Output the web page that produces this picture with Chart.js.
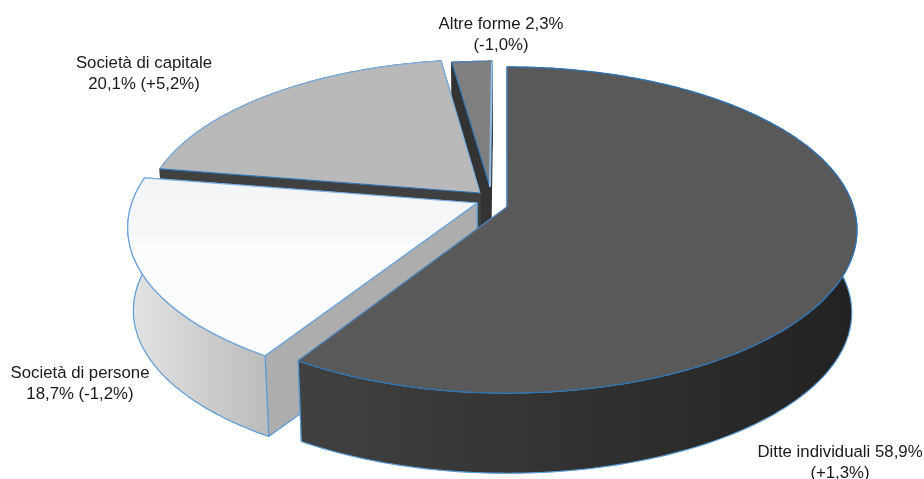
<!DOCTYPE html>
<html>
<head>
<meta charset="utf-8">
<style>
    html, body { margin: 0; padding: 0; background: #fff; }
    canvas { display: block; }
</style>
<script src="https://cdn.jsdelivr.net/npm/chart.js@4"></script>
</head>
<body>
<canvas id="pieCanvas" width="924" height="479"></canvas>
<script>
// Chart data
const categories = ['Ditte individuali', 'Società di persone', 'Società di capitale', 'Altre forme'];
const shares = [58.9, 18.7, 20.1, 2.3];
const sliceLabels = [
    ['Ditte individuali 58,9%', '(+1,3%)'],
    ['Società di persone', '18,7% (-1,2%)'],
    ['Società di capitale', '20,1% (+5,2%)'],
    ['Altre forme 2,3%', '(-1,0%)']
];

// Slice colours
const topColors = ['#595959', '#fbfcfd', '#b9b9b9', '#7f7f7f'];
const rimColors = ['#2f75b5', '#6aa3dc', '#7db0e2', '#4f86c0'];
const startEdgeColors = ['#4f7fb0', '#6aa3dc', '#2f75b5', '#2f75b5'];
const endEdgeColors = ['#4f7fb0', '#7db0e2', '#7db0e2', '#8fbdea'];
const cutColors = ['#333333', '#adadad', '#404040', '#333333'];
const wallStart = ['#414141', '#e4e4e4', '#404040', '#333333'];
const wallEnd = ['#222222', '#bcbcbc', '#404040', '#333333'];
const wallEdgeColors = ['#5b9bd5', '#5b9bd5', '#404040', '#333333'];

// Explode offset and size of each slice, in units of the pie radius
const explodeU = [0, -0.0866, -0.0789, -0.05];
const explodeV = [0, -0.025, -0.0887, -0.127];
const sliceScale = [1, 1, 0.97, 0.92];

// Label anchors (centre x, first baseline y)
const labelX = [840, 80, 144, 501];
const labelY = [457, 378, 68, 29];

// Perspective of the tilted disc
const TILT_K = 0.141;
const STRETCH_X = 1.674;
const STRETCH_Y = 0.772;
const DEPTH = 83;
const DEPTH_SCALE = 0.985;

function project(arc, u, v) {
    const w = 1 / (1 - TILT_K * v);
    return {
        x: arc.x + STRETCH_X * arc.outerRadius * u * w,
        y: arc.y + STRETCH_Y * arc.outerRadius * v * w
    };
}

function dropped(arc, p) {
    return {
        x: arc.x + (p.x - arc.x) * DEPTH_SCALE,
        y: arc.y + (p.y - arc.y) * DEPTH_SCALE + DEPTH
    };
}

function tracePath(ctx, points) {
    ctx.beginPath();
    points.forEach((p, i) => i ? ctx.lineTo(p.x, p.y) : ctx.moveTo(p.x, p.y));
}

function drawSlice(ctx, arc, i) {
    const du = explodeU[i];
    const dv = explodeV[i];
    const r = sliceScale[i];
    const steps = Math.ceil((arc.endAngle - arc.startAngle) * 90);

    const rim = [];
    for (let s = 0; s <= steps; s++) {
        const a = arc.startAngle + (arc.endAngle - arc.startAngle) * s / steps;
        rim.push(project(arc, du + r * Math.cos(a), dv + r * Math.sin(a)));
    }
    const apex = project(arc, du, dv);
    const apexLow = dropped(arc, apex);
    const rimLow = rim.map(p => dropped(arc, p));
    const first = rim[0];
    const last = rim[rim.length - 1];

    ctx.lineWidth = 1.2;
    ctx.lineJoin = 'round';

    // Cut faces, the one facing the viewer goes last
    ctx.strokeStyle = wallEdgeColors[i];
    [last, first].forEach(p => {
        tracePath(ctx, [apex, p, dropped(arc, p), apexLow]);
        ctx.closePath();
        ctx.fillStyle = cutColors[i];
        ctx.fill();
        ctx.stroke();
    });

    // Outer wall
    const xs = rim.map(p => p.x);
    const grad = ctx.createLinearGradient(Math.min(...xs), 0, Math.max(...xs), 0);
    grad.addColorStop(0, wallStart[i]);
    grad.addColorStop(1, wallEnd[i]);
    tracePath(ctx, rim.concat(rimLow.slice().reverse()));
    ctx.closePath();
    ctx.fillStyle = grad;
    ctx.fill();
    ctx.stroke();

    // Top face
    tracePath(ctx, [apex].concat(rim));
    ctx.closePath();
    ctx.fillStyle = arc.options.backgroundColor;
    if (i === 1) {
        // Faint grey sheen at the back of the light slice
        const sheen = ctx.createLinearGradient(0, last.y, 0, last.y + 70);
        sheen.addColorStop(0, '#f4f5f6');
        sheen.addColorStop(0.8, '#f6f7f8');
        sheen.addColorStop(1, arc.options.backgroundColor);
        ctx.fillStyle = sheen;
    }
    ctx.fill();

    tracePath(ctx, rim);
    ctx.strokeStyle = rimColors[i];
    ctx.stroke();
    tracePath(ctx, [apex, first]);
    ctx.strokeStyle = startEdgeColors[i];
    ctx.stroke();
    tracePath(ctx, [apex, last]);
    ctx.strokeStyle = endEdgeColors[i];
    ctx.lineWidth = i === 3 ? 2 : 1.2;
    ctx.stroke();
}

const pie3dPlugin = {
    id: 'pie3d',
    beforeDatasetsDraw(chart) {
        const ctx = chart.ctx;
        const arcs = chart.getDatasetMeta(0).data;
        ctx.save();
        // Back to front
        [3, 2, 1, 0].forEach(i => drawSlice(ctx, arcs[i], i));
        ctx.restore();
        return false;
    },
    afterDraw(chart) {
        const ctx = chart.ctx;
        ctx.save();
        ctx.font = '16.8px "Liberation Sans", Arial, sans-serif';
        ctx.fillStyle = '#1a1a1a';
        ctx.textAlign = 'center';
        sliceLabels.forEach((lines, i) => {
            lines.forEach((line, n) => ctx.fillText(line, labelX[i], labelY[i] + n * 20.5));
        });
        ctx.restore();
    }
};

new Chart(document.getElementById('pieCanvas'), {
    type: 'pie',
    data: {
        labels: categories,
        datasets: [{
            data: shares,
            backgroundColor: topColors,
            borderWidth: 0
        }]
    },
    options: {
        responsive: false,
        animation: false,
        layout: { padding: { left: 90, bottom: 65 } },
        plugins: {
            legend: { display: false },
            tooltip: { enabled: false }
        }
    },
    plugins: [pie3dPlugin]
});
</script>
</body>
</html>
